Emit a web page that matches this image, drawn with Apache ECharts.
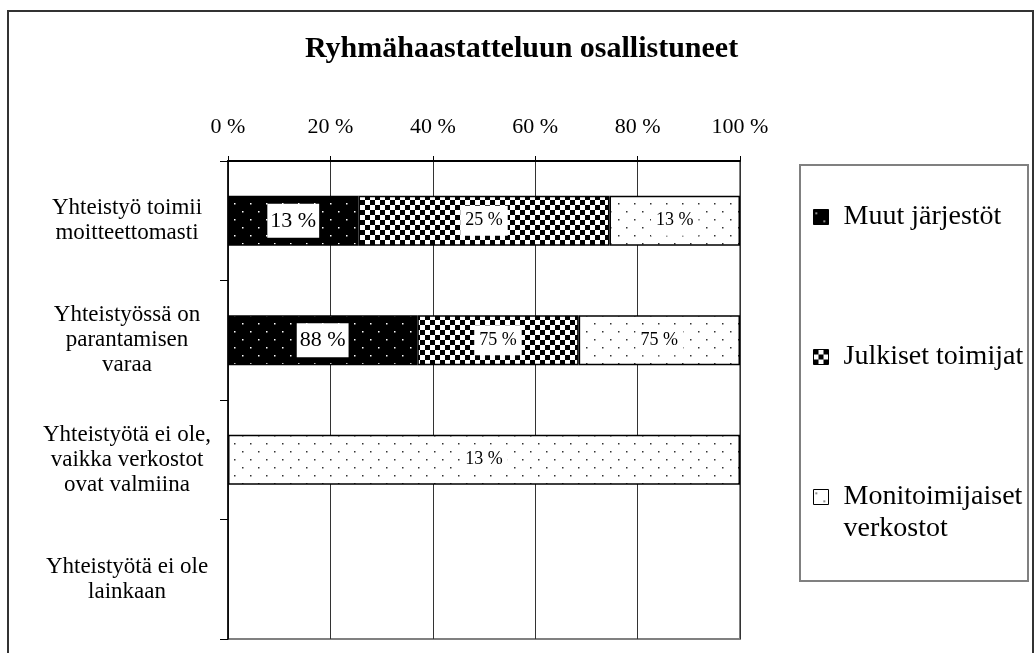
<!DOCTYPE html>
<html><head><meta charset="utf-8">
<script src="https://cdn.jsdelivr.net/npm/echarts@6/dist/echarts.min.js"></script>
<style>html,body{margin:0;padding:0;background:#fff}#c{width:1034px;height:653px}</style>
</head><body><div id="c"></div>
<script>
const chartTitle = 'Ryhmähaastatteluun osallistuneet';
const categories = [
  'Yhteistyö toimii\nmoitteettomasti',
  'Yhteistyössä on\nparantamisen\nvaraa',
  'Yhteistyötä ei ole,\nvaikka verkostot\novat valmiina',
  'Yhteistyötä ei ole\nlainkaan'
];
const seriesNames = ['Muut järjestöt', 'Julkiset toimijat', 'Monitoimijaiset verkostot'];
const muutJarjestot = [13, 88, 0, 0];
const julkisetToimijat = [25, 75, 0, 0];
const monitoimijaisetVerkostot = [13, 75, 13, 0];
const axisMin = 0, axisMax = 100, axisStep = 20;

const FONT = 'Liberation Serif';
const raw = [muutJarjestot, julkisetToimijat, monitoimijaisetVerkostot];
const totals = categories.map((c, i) => raw.reduce((s, arr) => s + arr[i], 0));
const pct = raw.map(arr => arr.map((v, i) => (totals[i] && v > 0) ? v / totals[i] * 100 : '-'));

function tile(w, h, draw) {
  const c = document.createElement('canvas');
  c.width = w; c.height = h;
  draw(c.getContext('2d'));
  return c;
}
const darkDots = tile(16, 16, g => {
  g.fillStyle = '#000'; g.fillRect(0, 0, 16, 16);
  g.fillStyle = '#fff'; g.fillRect(2, 3, 1.5, 1.5); g.fillRect(10, 11, 1.5, 1.5);
});
const checker = tile(10, 10, g => {
  g.fillStyle = '#fff'; g.fillRect(0, 0, 10, 10);
  g.fillStyle = '#000'; g.fillRect(0, 0, 5, 5); g.fillRect(5, 5, 5, 5);
});
const lightDots = tile(16, 16, g => {
  g.fillStyle = '#fff'; g.fillRect(0, 0, 16, 16);
  g.fillStyle = '#333'; g.fillRect(2, 3, 1.5, 1.5); g.fillRect(10, 11, 1.5, 1.5);
});
const fills = [darkDots, checker, lightDots].map(img => ({ image: img, repeat: 'repeat' }));
const labelSizes = [22, 18, 18];

const series = seriesNames.map((name, si) => ({
  name, type: 'bar', stack: 'total', barWidth: 50,
  data: pct[si],
  itemStyle: { color: fills[si], borderColor: '#000', borderWidth: 1.5 },
  label: {
    show: true, position: 'inside', color: '#000',
    fontFamily: FONT, fontSize: labelSizes[si], lineHeight: labelSizes[si] + 4,
    backgroundColor: '#fff', padding: si === 0 ? [4, 3] : [4, 5],
    formatter: p => raw[si][p.dataIndex] > 0 ? raw[si][p.dataIndex] + ' %' : ''
  }
}));

const legendBase = {
  orient: 'vertical', left: 813, padding: 0, selectedMode: false,
  itemWidth: 15, itemHeight: 15, icon: 'rect',
  itemStyle: { borderColor: '#000', borderWidth: 1 },
  textStyle: { fontFamily: FONT, fontSize: 28, lineHeight: 32, color: '#000', padding: [0, 0, 0, 10] }
};

const chart = echarts.init(document.getElementById('c'));
chart.setOption({
  animation: false,
  backgroundColor: '#fff',
  title: {
    text: chartTitle, left: 305, top: 34, padding: 0,
    textStyle: { fontFamily: FONT, fontWeight: 'bold', fontSize: 30, color: '#000' }
  },
  legend: [
    Object.assign({}, legendBase, { data: [seriesNames[0]], top: 201 }),
    Object.assign({}, legendBase, { data: [seriesNames[1]], top: 341 }),
    Object.assign({}, legendBase, {
      data: [seriesNames[2]], top: 449,
      formatter: n => '\n' + n.replace(' ', '\n')
    })
  ],
  grid: { left: 228, right: 294, top: 161, bottom: 14, show: true, borderColor: '#808080', borderWidth: 2 },
  xAxis: {
    type: 'value', position: 'top', min: axisMin, max: axisMax, interval: axisStep,
    axisLine: { show: true, lineStyle: { color: '#000', width: 2 } },
    axisTick: { show: true, length: 5, lineStyle: { color: '#000' } },
    splitLine: { show: true, lineStyle: { color: '#333', width: 1 } },
    axisLabel: { formatter: '{value} %', fontFamily: FONT, fontSize: 22, color: '#000', margin: 23 }
  },
  yAxis: {
    type: 'category', inverse: true, data: categories,
    axisLine: { show: true, lineStyle: { color: '#000', width: 1.5 } },
    axisTick: { show: true, length: 8, interval: 0, lineStyle: { color: '#000' } },
    axisLabel: { interval: 0, fontFamily: FONT, fontSize: 23, lineHeight: 25, color: '#000', align: 'center', margin: 101 }
  },
  series,
  graphic: [
    { type: 'rect', silent: true, z: -1, shape: { x: 8, y: 11, width: 1025, height: 700 }, style: { fill: 'none', stroke: '#333', lineWidth: 2 } },
    { type: 'rect', silent: true, z: -1, shape: { x: 800, y: 165, width: 228, height: 416 }, style: { fill: 'none', stroke: '#808080', lineWidth: 2 } }
  ]
});
</script></body></html>
